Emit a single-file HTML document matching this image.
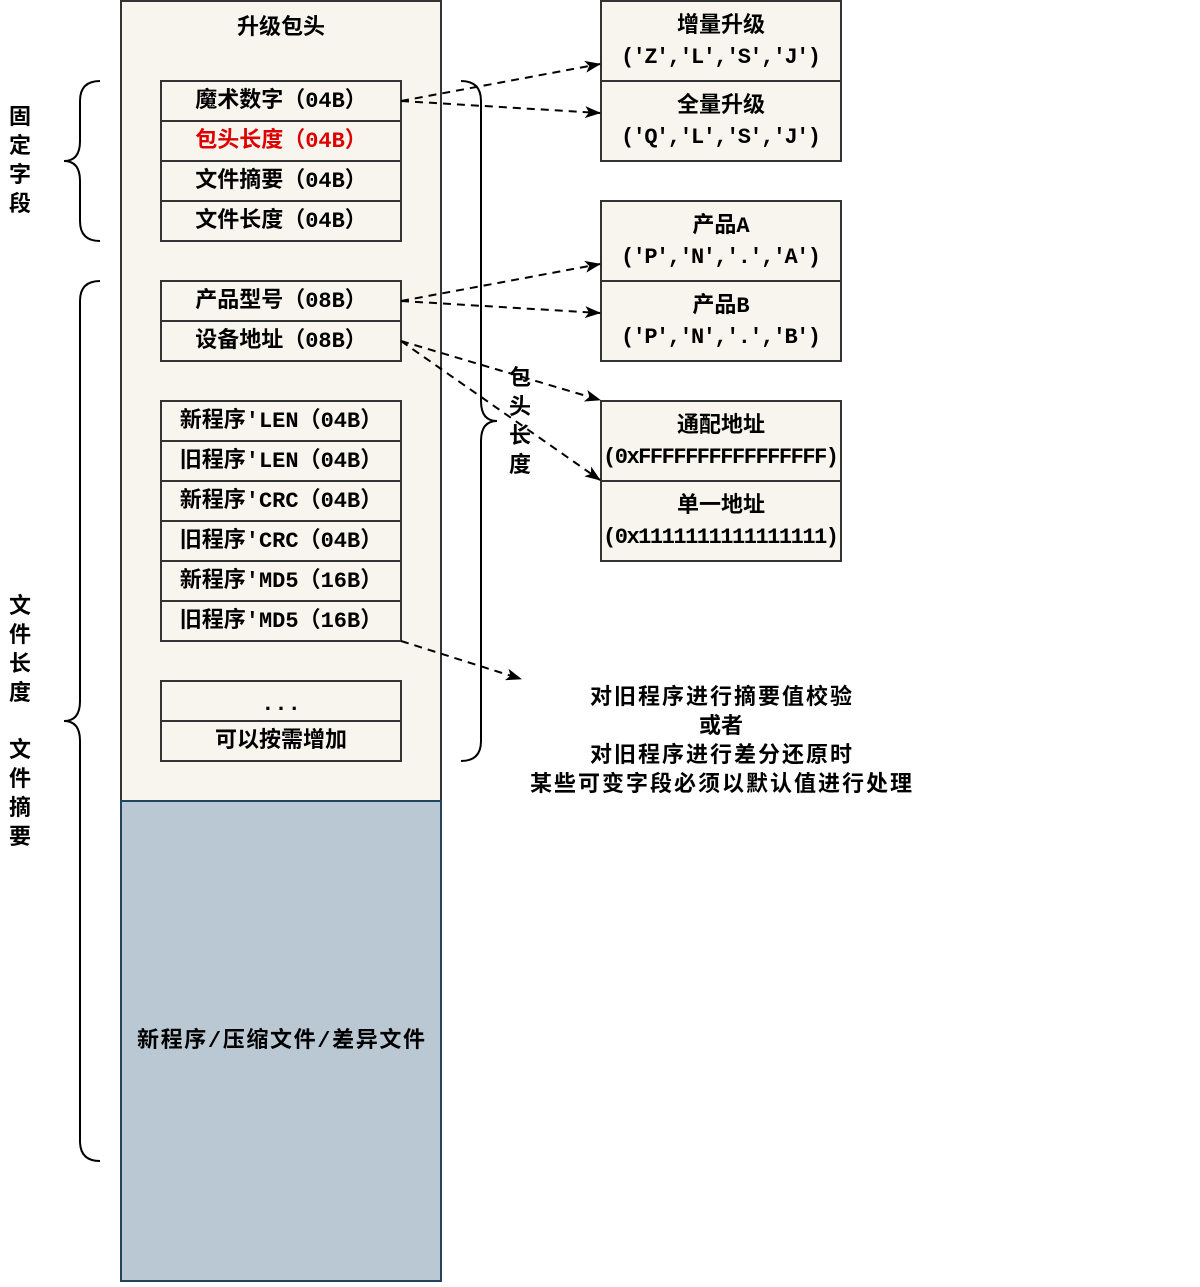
<!DOCTYPE html>
<html><head><meta charset="utf-8"><style>
body{margin:0;background:#fff}
svg text{font-family:"Liberation Mono","Noto Sans CJK SC",monospace;font-weight:bold;font-size:22px;fill:#000}
</style></head><body>
<svg width="1200" height="1282" viewBox="0 0 1200 1282" xmlns="http://www.w3.org/2000/svg">
<defs><marker id="a" markerWidth="16" markerHeight="12" refX="15" refY="6" orient="auto" markerUnits="userSpaceOnUse"><path d="M0,0 L16,6 L0,12 L4,6 z" fill="#000"/></marker></defs>
<rect x="121" y="1" width="320" height="800" fill="#f7f5ee" stroke="#333" stroke-width="2"/>
<rect x="121" y="801" width="320" height="480" fill="#b9c8d3" stroke="#23445d" stroke-width="2"/>
<text x="281" y="34" text-anchor="middle">升级包头</text>
<text x="281" y="1047" text-anchor="middle" textLength="288">新程序/压缩文件/差异文件</text>
<g fill="#f7f5ee" stroke="#333" stroke-width="2">
<rect x="161" y="81" width="240" height="40"/><rect x="161" y="121" width="240" height="40"/>
<rect x="161" y="161" width="240" height="40"/><rect x="161" y="201" width="240" height="40"/>
<rect x="161" y="281" width="240" height="40"/><rect x="161" y="321" width="240" height="40"/>
<rect x="161" y="401" width="240" height="40"/><rect x="161" y="441" width="240" height="40"/>
<rect x="161" y="481" width="240" height="40"/><rect x="161" y="521" width="240" height="40"/>
<rect x="161" y="561" width="240" height="40"/><rect x="161" y="601" width="240" height="40"/>
<rect x="161" y="681" width="240" height="40"/><rect x="161" y="721" width="240" height="40"/>
<rect x="601" y="1" width="240" height="80"/><rect x="601" y="81" width="240" height="80"/>
<rect x="601" y="201" width="240" height="80"/><rect x="601" y="281" width="240" height="80"/>
<rect x="601" y="401" width="240" height="80"/><rect x="601" y="481" width="240" height="80"/>
</g>
<g text-anchor="middle">
<text x="281" y="107">魔术数字（04B）</text>
<text x="281" y="147" style="fill:#d00">包头长度（04B）</text>
<text x="281" y="187">文件摘要（04B）</text>
<text x="281" y="227">文件长度（04B）</text>
<text x="281" y="307">产品型号（08B）</text>
<text x="281" y="347">设备地址（08B）</text>
<text x="281" y="427">新程序'LEN（04B）</text>
<text x="281" y="467">旧程序'LEN（04B）</text>
<text x="281" y="507">新程序'CRC（04B）</text>
<text x="281" y="547">旧程序'CRC（04B）</text>
<text x="281" y="587">新程序'MD5（16B）</text>
<text x="281" y="627">旧程序'MD5（16B）</text>
<text x="281" y="710">...</text>
<text x="281" y="747">可以按需增加</text>
<text x="721" y="32">增量升级</text><text x="721" y="63" textLength="200">('Z','L','S','J')</text>
<text x="721" y="112">全量升级</text><text x="721" y="143" textLength="200">('Q','L','S','J')</text>
<text x="721" y="232">产品A</text><text x="721" y="263" textLength="200">('P','N','.','A')</text>
<text x="721" y="312">产品B</text><text x="721" y="343" textLength="200">('P','N','.','B')</text>
<text x="721" y="432">通配地址</text><text x="721" y="463" textLength="236">(0xFFFFFFFFFFFFFFFF)</text>
<text x="721" y="512">单一地址</text><text x="721" y="543" textLength="236">(0x1111111111111111)</text>
<text x="721" y="704" textLength="262">对旧程序进行摘要值校验</text>
<text x="721" y="733">或者</text>
<text x="721" y="762" textLength="262">对旧程序进行差分还原时</text>
<text x="721" y="791" textLength="382">某些可变字段必须以默认值进行处理</text>
<text x="20" y="124">固</text><text x="20" y="153">定</text><text x="20" y="182">字</text><text x="20" y="211">段</text>
<text x="20" y="613">文</text><text x="20" y="642">件</text><text x="20" y="671">长</text><text x="20" y="700">度</text>
<text x="20" y="757">文</text><text x="20" y="786">件</text><text x="20" y="815">摘</text><text x="20" y="844">要</text>
<text x="520" y="385">包</text><text x="520" y="414">头</text><text x="520" y="443">长</text><text x="520" y="472">度</text>
</g>
<g fill="none" stroke="#000" stroke-width="2">
<path d="M100,81 Q80,81 80,101 L80,141 Q80,161 64,161 Q80,161 80,181 L80,221 Q80,241 100,241"/>
<path d="M100,281 Q80,281 80,301 L80,701 Q80,721 64,721 Q80,721 80,741 L80,1141 Q80,1161 100,1161"/>
<path d="M461,81 Q481,81 481,101 L481,401 Q481,421 497,421 Q481,421 481,441 L481,741 Q481,761 461,761"/>
</g>
<g fill="none" stroke="#000" stroke-width="2" stroke-dasharray="8,6" marker-end="url(#a)">
<path d="M401,101 L600,64"/><path d="M401,101 L600,113"/>
<path d="M401,301 L600,264"/><path d="M401,301 L600,313"/>
<path d="M401,341 L600,400"/><path d="M401,341 L600,480"/>
<path d="M401,641 L521,679"/>
</g>
</svg>
</body></html>
